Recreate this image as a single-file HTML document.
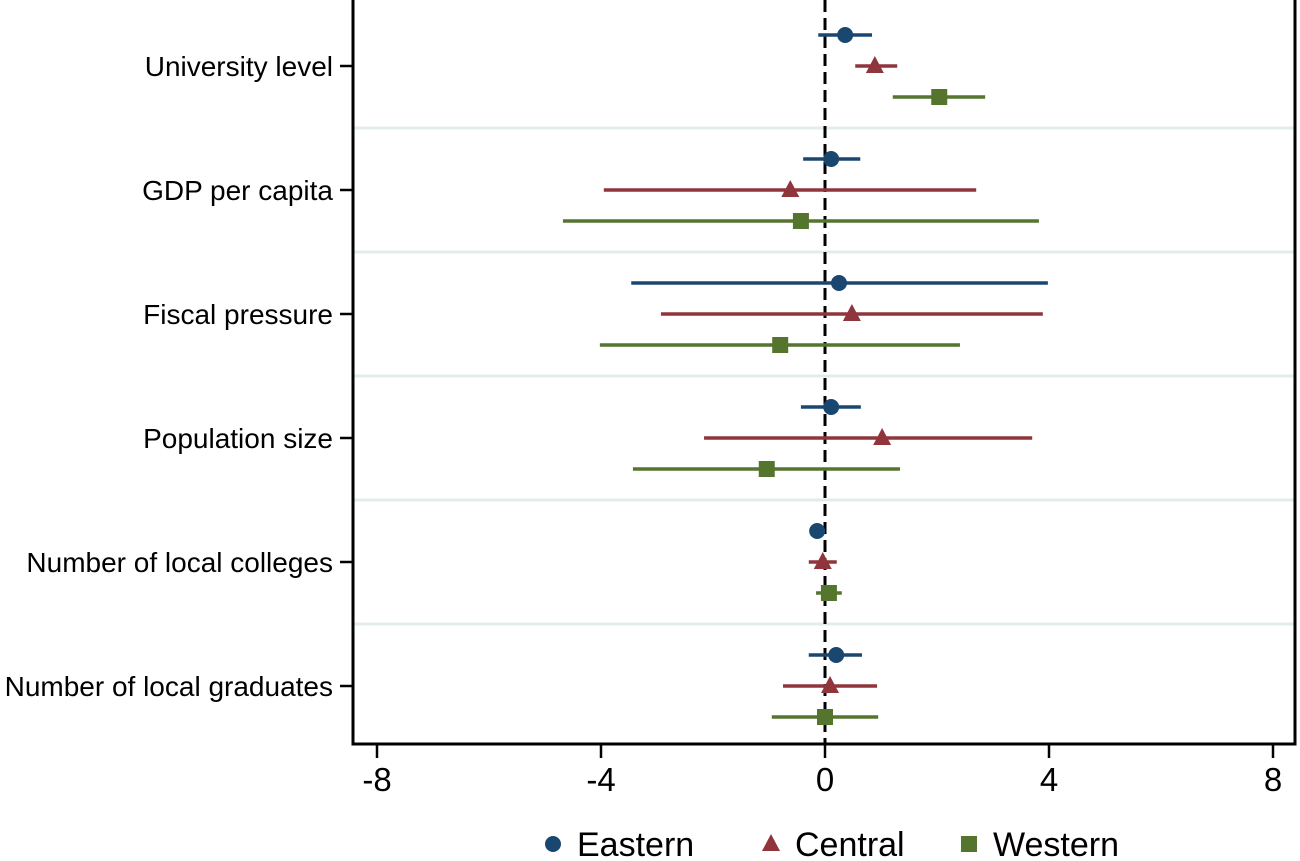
<!DOCTYPE html>
<html><head><meta charset="utf-8"><style>
body{margin:0;background:#fff;}
svg{display:block;font-family:"Liberation Sans",sans-serif;}
</style></head><body>
<svg id="chart" width="1300" height="861" viewBox="0 0 1300 861"></svg>
<script>
const categories=["University level","GDP per capita","Fiscal pressure","Population size","Number of local colleges","Number of local graduates"];
const seriesNames=["Eastern","Central","Western"];
const eastPt=[0.36,0.11,0.25,0.11,-0.14,0.20];
const eastLo=[-0.12,-0.39,-3.46,-0.43,-0.20,-0.29];
const eastHi=[0.84,0.63,3.98,0.64,-0.05,0.66];
const centPt=[0.89,-0.62,0.48,1.02,-0.04,0.09];
const centLo=[0.54,-3.95,-2.93,-2.16,-0.29,-0.75];
const centHi=[1.29,2.70,3.89,3.70,0.21,0.93];
const westPt=[2.04,-0.43,-0.80,-1.04,0.07,0.00];
const westLo=[1.21,-4.68,-4.02,-3.43,-0.16,-0.95];
const westHi=[2.86,3.82,2.41,1.34,0.30,0.95];
const xTicks=[-8,-4,0,4,8];
const colors=["#1a476f","#90353b","#55752f"];
const NS="http://www.w3.org/2000/svg";
const svg=document.getElementById('chart');
function X(v){return 825+v*56;}
function Y(g,s){return 66+g*124+(s-1)*31;}
function mk(t,a,p){const e=document.createElementNS(NS,t);for(const k in a)e.setAttribute(k,a[k]);(p||svg).appendChild(e);return e;}
for(let g=0;g<categories.length-1;g++){
 const l=mk('line',{x1:354,x2:1294,y1:Y(g,1)+62,y2:Y(g,1)+62,stroke:'#e3ecec','stroke-width':3});
 
 
}
const z=mk('line',{x1:X(0),x2:X(0),y1:0,y2:744,stroke:'#000','stroke-width':3,'stroke-dasharray':'12,6'});


const fr=mk('path',{d:'M353,0 V744 H1295 V0',fill:'none',stroke:'#000','stroke-width':3});


xTicks.forEach(t=>{
 const tk=mk('line',{x1:X(t),x2:X(t),y1:744,y2:758,stroke:'#000','stroke-width':2.5});
 
 
 const tx=mk('text',{x:X(t),y:791,'text-anchor':'middle','font-size':33});
 tx.textContent=t;
 
 
});
categories.forEach((c,g)=>{
 const tk=mk('line',{x1:340,x2:353,y1:Y(g,1),y2:Y(g,1),stroke:'#000','stroke-width':2.5});
 
 
 const tx=mk('text',{x:333,y:Y(g,1)+10,'text-anchor':'end','font-size':28});
 tx.textContent=c;
 
 
});
function marker(s,x,y,p){
 let e;
 if(s===0)e=mk('circle',{cx:x,cy:y,r:8,fill:colors[0]},p);
 else if(s===1)e=mk('polygon',{points:`${x},${y-10} ${x+9},${y+7} ${x-9},${y+7}`,fill:colors[1]},p);
 else e=mk('rect',{x:x-8,y:y-8,width:16,height:16,fill:colors[2]},p);
 return e;
}
const pts=[eastPt,centPt,westPt],los=[eastLo,centLo,westLo],his=[eastHi,centHi,westHi];
for(let s=0;s<3;s++){
 const grp=mk('g',{});
 
 
 categories.forEach((c,g)=>{
  const y=Y(g,s);
  const ci=mk('line',{x1:X(los[s][g]),x2:X(his[s][g]),y1:y,y2:y,stroke:colors[s],'stroke-width':3.5},grp);
  
  
  const m=marker(s,X(pts[s][g]),y,grp);
  
  
 });
}
const lx=[553,771,969];
seriesNames.forEach((n,s)=>{
 const g=mk('g',{});
 
 
 marker(s,lx[s],844,g);
 const t=mk('text',{x:lx[s]+24,y:856,'font-size':34},g);
 t.textContent=n;
});
</script>
</body></html>
